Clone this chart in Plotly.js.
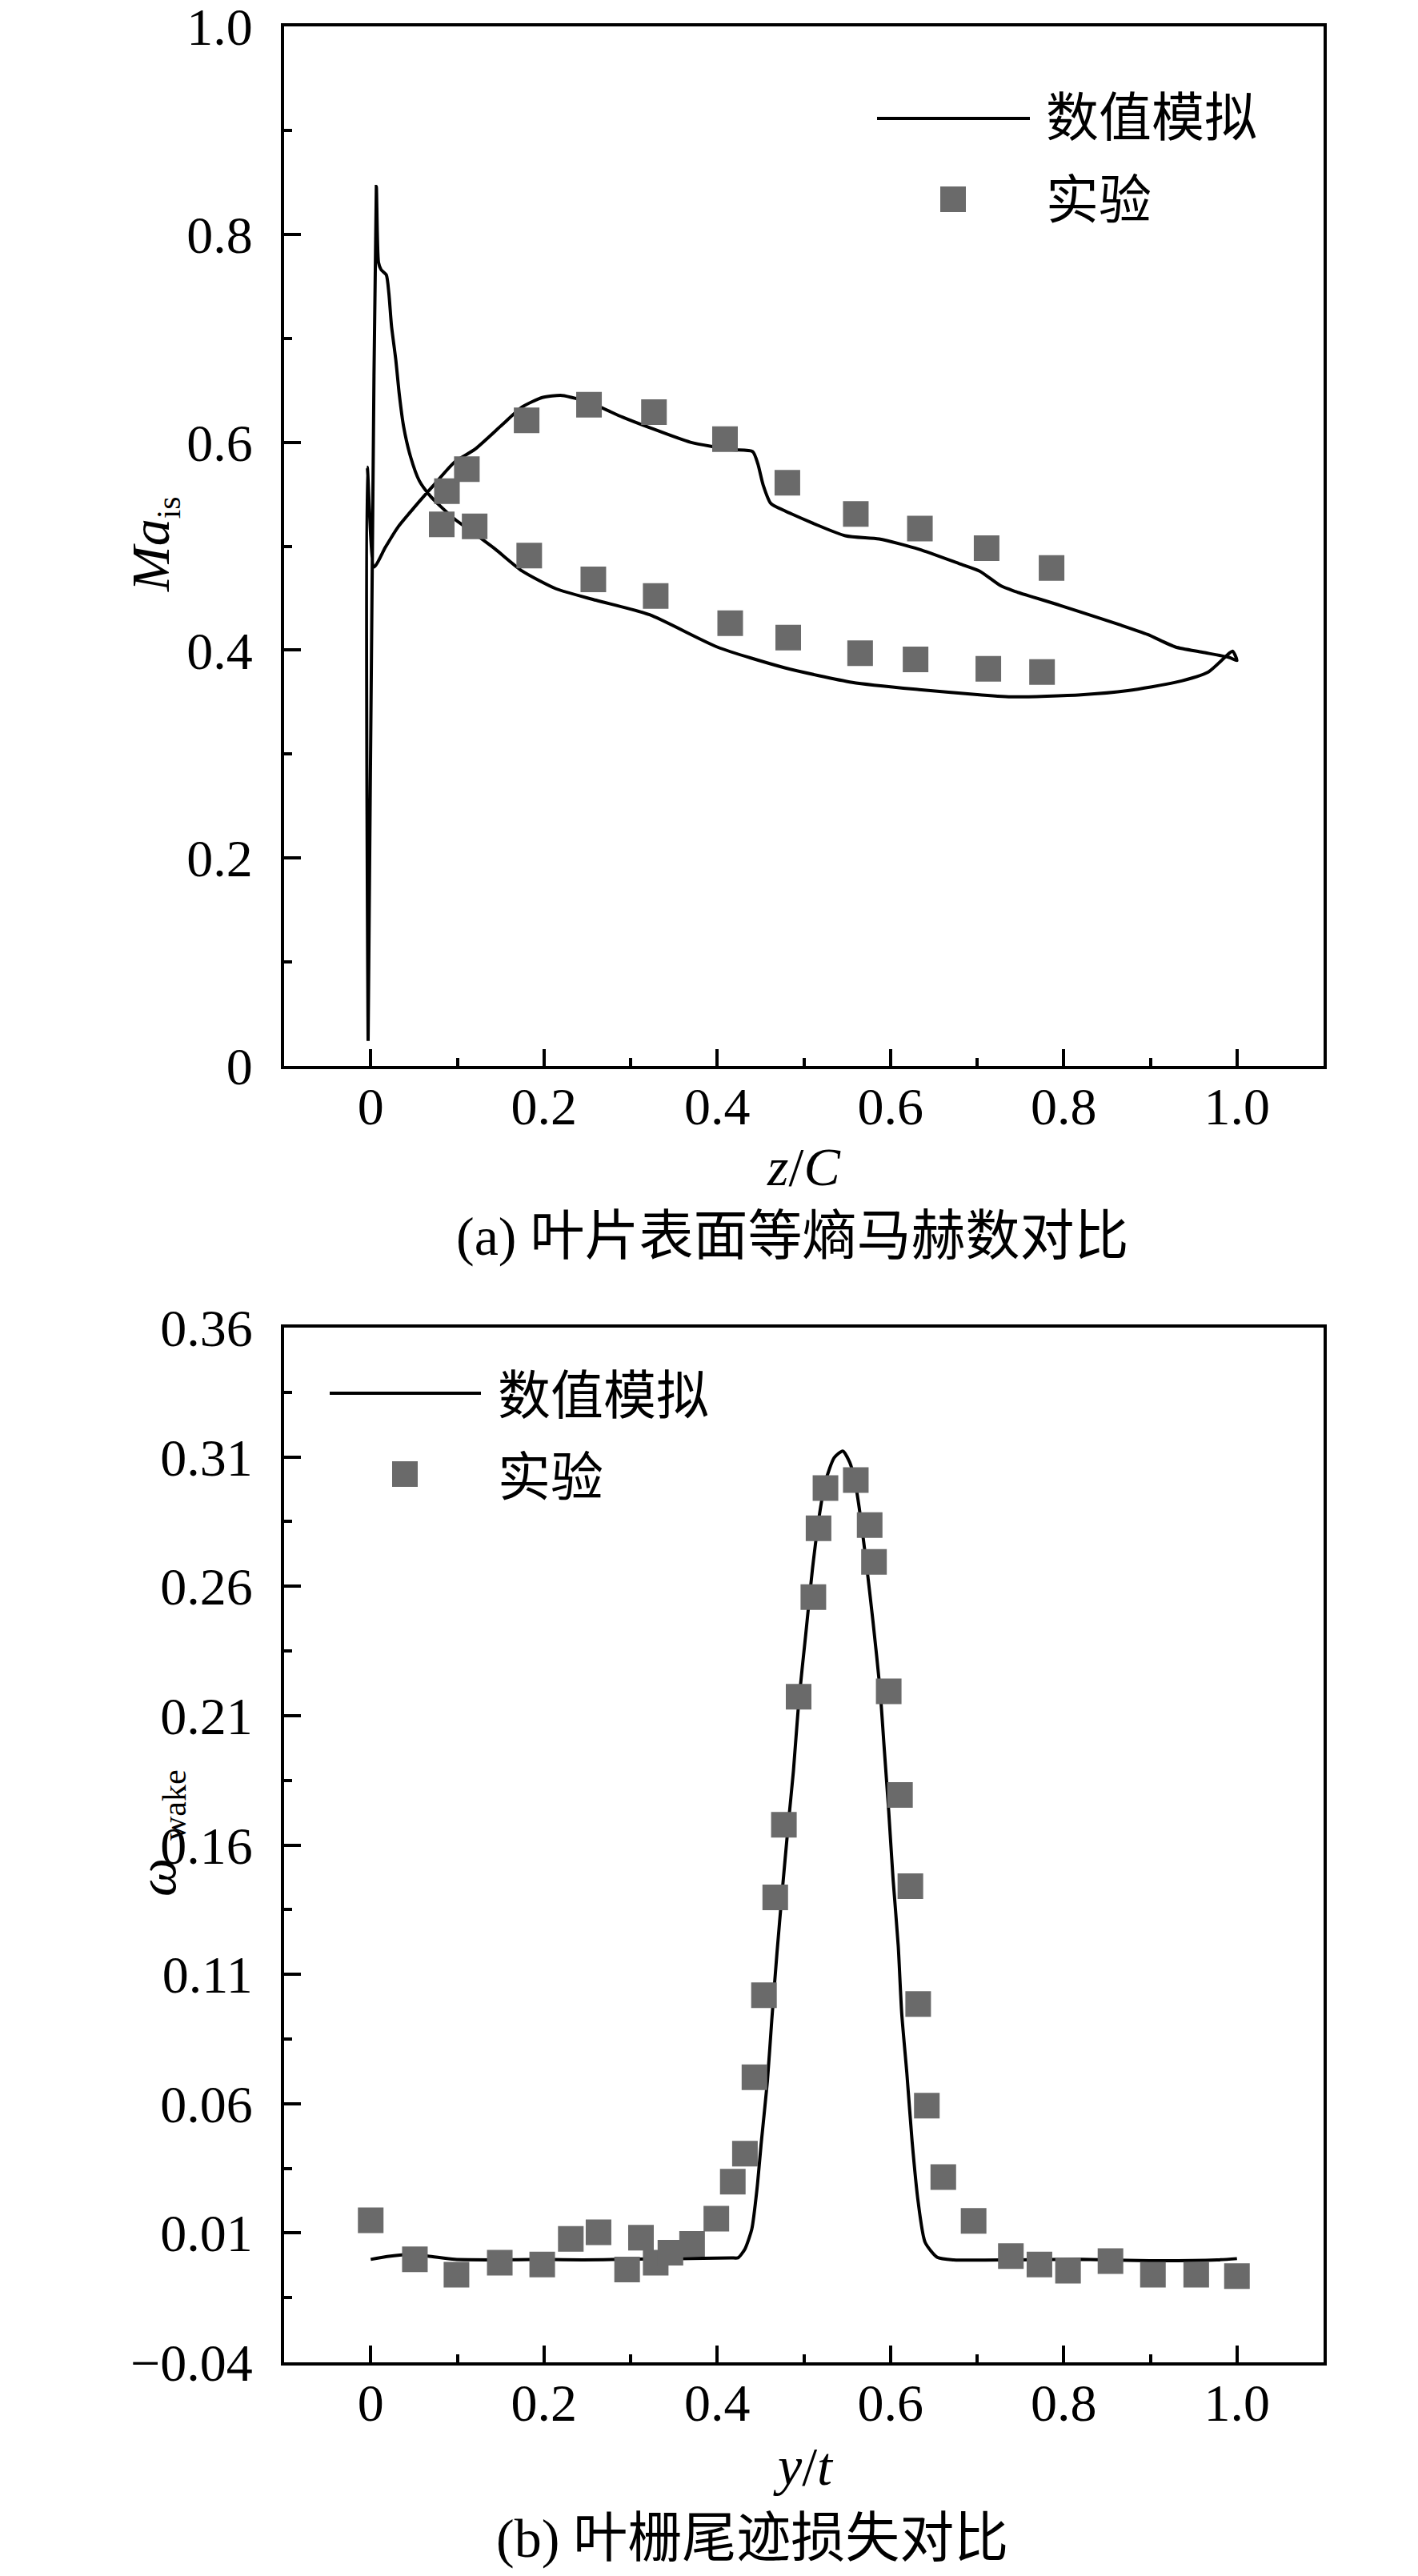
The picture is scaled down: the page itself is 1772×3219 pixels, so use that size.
<!DOCTYPE html>
<html>
<head>
<meta charset="utf-8">
<script src="https://cdn.plot.ly/plotly-3.0.1.min.js"></script>
<style>html,body{margin:0;padding:0;background:#fff;}#chart{width:1772px;height:3219px;}</style>
</head>
<body>
<div id="chart"></div>
<script>
// ---- (a) isentropic Mach number along blade surface ----
// simulation: branch with leading-edge spike (lower curve)
const simA_spikeX = [-0.003, 0.002, 0.0065, 0.009, 0.012, 0.018, 0.021, 0.024, 0.029, 0.033, 0.038, 0.046, 0.056, 0.069, 0.081, 0.097, 0.120, 0.144, 0.175, 0.214, 0.260, 0.322, 0.400, 0.478, 0.556, 0.633, 0.703, 0.742, 0.820, 0.874, 0.929, 0.967, 0.991, 0.995, 1.000];
const simA_spikeY = [0.024, 0.500, 0.846, 0.773, 0.766, 0.761, 0.743, 0.712, 0.679, 0.646, 0.615, 0.586, 0.563, 0.548, 0.538, 0.526, 0.512, 0.497, 0.476, 0.459, 0.448, 0.434, 0.403, 0.383, 0.369, 0.362, 0.357, 0.355, 0.357, 0.361, 0.369, 0.379, 0.397, 0.399, 0.390];
// simulation: other branch (upper curve), from leading edge to trailing edge
const simA_upperX = [-0.003, -0.004, 0.004, 0.017, 0.032, 0.051, 0.072, 0.097, 0.120, 0.152, 0.175, 0.198, 0.221, 0.253, 0.291, 0.322, 0.369, 0.416, 0.441, 0.447, 0.453, 0.462, 0.486, 0.548, 0.587, 0.633, 0.680, 0.703, 0.727, 0.742, 0.796, 0.866, 0.897, 0.929, 0.960, 0.991, 1.000];
const simA_upperY = [0.024, 0.576, 0.480, 0.499, 0.519, 0.538, 0.558, 0.581, 0.593, 0.617, 0.634, 0.643, 0.645, 0.638, 0.624, 0.614, 0.600, 0.593, 0.591, 0.579, 0.559, 0.541, 0.531, 0.510, 0.507, 0.497, 0.483, 0.476, 0.462, 0.457, 0.443, 0.424, 0.415, 0.403, 0.398, 0.393, 0.390];
// experiment
const expA_X = [0.088, 0.111, 0.180, 0.252, 0.327, 0.409, 0.481, 0.560, 0.634, 0.711, 0.786,
                0.082, 0.120, 0.183, 0.257, 0.329, 0.415, 0.482, 0.565, 0.629, 0.713, 0.775];
const expA_Y = [0.553, 0.574, 0.621, 0.636, 0.629, 0.603, 0.561, 0.531, 0.517, 0.498, 0.479,
                0.521, 0.519, 0.491, 0.468, 0.452, 0.426, 0.412, 0.397, 0.391, 0.382, 0.379];

// ---- (b) cascade wake loss ----
const simB_X = [0.000, 0.019, 0.043, 0.066, 0.097, 0.144, 0.198, 0.245, 0.292, 0.354, 0.416, 0.424, 0.432, 0.440, 0.446, 0.451, 0.458, 0.463, 0.469, 0.475, 0.482, 0.488, 0.494, 0.502, 0.510, 0.518, 0.525, 0.535, 0.545, 0.553, 0.559, 0.564, 0.572, 0.580, 0.588, 0.593, 0.598, 0.603, 0.609, 0.613, 0.619, 0.625, 0.632, 0.640, 0.654, 0.673, 0.743, 0.821, 0.899, 0.977, 1.000];
const simB_Y = [-0.0002, 0.0009, 0.0017, 0.0011, -0.0002, -0.0004, -0.0002, -0.0004, -0.0002, 0.0001, 0.0004, 0.0004, 0.0038, 0.0116, 0.0272, 0.0454, 0.0689, 0.0923, 0.1183, 0.1418, 0.1678, 0.1886, 0.2147, 0.2407, 0.2668, 0.2876, 0.3006, 0.3097, 0.3123, 0.3079, 0.3006, 0.2902, 0.2694, 0.2459, 0.2199, 0.1965, 0.1730, 0.1470, 0.1209, 0.0949, 0.0715, 0.0454, 0.0220, 0.0064, 0.0006, -0.0004, -0.0004, -0.0002, -0.0007, -0.0004, 0.0001];
const expB_X = [0.000, 0.051, 0.099, 0.149, 0.198, 0.231, 0.263, 0.296, 0.312, 0.329, 0.346, 0.371, 0.399, 0.418, 0.432, 0.443, 0.454, 0.467, 0.477, 0.494, 0.511, 0.517, 0.525, 0.560, 0.576, 0.581, 0.598, 0.611, 0.623, 0.632, 0.642, 0.661, 0.696, 0.739, 0.772, 0.805, 0.854, 0.903, 0.953, 1.000];
const expB_Y = [0.0149, -0.0002, -0.0061, -0.0015, -0.0022, 0.0077, 0.0103, -0.0041, 0.0082, -0.0015, 0.0024, 0.0058, 0.0155, 0.0298, 0.0407, 0.0702, 0.1019, 0.1397, 0.1678, 0.2173, 0.2558, 0.2824, 0.2980, 0.3011, 0.2837, 0.2694, 0.2194, 0.1793, 0.1441, 0.0985, 0.0592, 0.0316, 0.0147, 0.0011, -0.0022, -0.0046, -0.0009, -0.0061, -0.0061, -0.0067];

// ---- ticks ----
const xTickVals = [0, 0.2, 0.4, 0.6, 0.8, 1.0];
const xTickText = ['0', '0.2', '0.4', '0.6', '0.8', '1.0'];
const yATickVals = [0, 0.2, 0.4, 0.6, 0.8, 1.0];
const yATickText = ['0', '0.2', '0.4', '0.6', '0.8', '1.0'];
const yBTickVals = [-0.04, 0.01, 0.06, 0.11, 0.16, 0.21, 0.26, 0.31, 0.36];
const yBTickText = ['\u22120.04', '0.01', '0.06', '0.11', '0.16', '0.21', '0.26', '0.31', '0.36'];

const legendNames = ['数值模拟', '实验'];
const captions = ['(a) 叶片表面等熵马赫数对比', '(b) 叶栅尾迹损失对比'];

// ---- geometry helpers (page pixels -> paper) ----
const W = 1772, H = 3219;
const px = v => v / W;
const py = v => 1 - v / H;

const serif = 'Liberation Serif, Times New Roman, serif';
const mixed = 'Liberation Serif, Noto Sans CJK SC, serif';
const markerColor = '#6a6a6a';

// simulation curve for (a): upper branch reversed, then spike branch
const simA_X = simA_upperX.slice().reverse().concat(simA_spikeX);
const simA_Y = simA_upperY.slice().reverse().concat(simA_spikeY);

const traces = [
  {x: simA_X, y: simA_Y, xaxis: 'x', yaxis: 'y', mode: 'lines', line: {color: '#000', width: 4, shape: 'spline', smoothing: 0.6}, showlegend: false},
  {x: expA_X, y: expA_Y, xaxis: 'x', yaxis: 'y', mode: 'markers', marker: {symbol: 'square', size: 32, color: markerColor, line: {width: 0}}, showlegend: false},
  {x: simB_X, y: simB_Y, xaxis: 'x2', yaxis: 'y2', mode: 'lines', line: {color: '#000', width: 4, shape: 'spline', smoothing: 0.6}, showlegend: false},
  {x: expB_X, y: expB_Y, xaxis: 'x2', yaxis: 'y2', mode: 'markers', marker: {symbol: 'square', size: 32, color: markerColor, line: {width: 0}}, showlegend: false}
];

const xDomain = [px(355), px(1654)];
function xAxis(anchor) {
  return {
    domain: xDomain, anchor: anchor, range: [-0.1, 1.1],
    tickmode: 'array', tickvals: xTickVals, ticktext: xTickText,
    ticks: 'inside', ticklen: 21, tickwidth: 4, tickcolor: '#000',
    minor: {ticks: 'inside', ticklen: 10, tickwidth: 4, tickcolor: '#000', tick0: 0, dtick: 0.1, showgrid: false},
    showline: true, linecolor: '#000', linewidth: 4, mirror: true,
    showgrid: false, zeroline: false, ticklabeloverflow: 'allow',
    tickfont: {family: serif, size: 66, color: '#000'}, ticklabelstandoff: -10
  };
}
function yAxis(anchor, dom, range, vals, text, m0, md) {
  return {
    domain: dom, anchor: anchor, range: range,
    tickmode: 'array', tickvals: vals, ticktext: text,
    ticks: 'inside', ticklen: 21, tickwidth: 4, tickcolor: '#000',
    minor: {ticks: 'inside', ticklen: 10, tickwidth: 4, tickcolor: '#000', tick0: m0, dtick: md, showgrid: false},
    showline: true, linecolor: '#000', linewidth: 4, mirror: true,
    showgrid: false, zeroline: false, ticklabeloverflow: 'allow',
    tickfont: {family: serif, size: 66, color: '#000'}, ticklabelstandoff: 22
  };
}

function legendShapes(lineX0, lineX1, lineY, mx, my) {
  return [
    {type: 'line', xref: 'paper', yref: 'paper', x0: px(lineX0), x1: px(lineX1), y0: py(lineY), y1: py(lineY), line: {color: '#000', width: 4}},
    {type: 'rect', xref: 'paper', yref: 'paper', x0: px(mx - 16), x1: px(mx + 16), y0: py(my + 16), y1: py(my - 16), fillcolor: markerColor, line: {width: 0}}
  ];
}
function txt(text, x, y, opts) {
  return Object.assign({text: text, xref: 'paper', yref: 'paper', x: px(x), y: py(y), showarrow: false, xanchor: 'center', yanchor: 'middle', font: {family: mixed, size: 66, color: '#000'}}, opts || {});
}

const layout = {
  width: W, height: H,
  margin: {l: 0, r: 0, t: 0, b: 0},
  paper_bgcolor: '#fff', plot_bgcolor: '#fff',
  showlegend: false,
  xaxis: xAxis('y'),
  yaxis: yAxis('x', [py(1332), py(33)], [0, 1.0], yATickVals, yATickText, 0, 0.1),
  xaxis2: xAxis('y2'),
  yaxis2: yAxis('x2', [py(2952), py(1659)], [-0.04, 0.36], yBTickVals, yBTickText, -0.04, 0.025),
  shapes: [].concat(legendShapes(1096, 1287, 148, 1191, 249), legendShapes(412, 601, 1741, 506, 1842)),
  annotations: [
    txt(legendNames[0], 1305, 147, {xanchor: 'left'}),
    txt(legendNames[1], 1305, 250, {xanchor: 'left'}),
    txt(legendNames[0], 620, 1744, {xanchor: 'left'}),
    txt(legendNames[1], 620, 1846, {xanchor: 'left'}),
    txt('<i>Ma</i><sub><span style="font-size:42px">is</span></sub>', 192, 680, {textangle: -90, font: {family: serif, size: 68, color: '#000'}}),
    txt('<i>ω</i>', 196, 2346, {textangle: -90, font: {family: serif, size: 68, color: '#000'}}),
    txt('wake', 218, 2256, {textangle: -90, font: {family: serif, size: 42, color: '#000'}}),
    txt('<i>z</i>/<i>C</i>', 1004, 1458, {font: {family: serif, size: 68, color: '#000'}}),
    txt('<i>y</i>/<i>t</i>', 1004, 3082, {font: {family: serif, size: 68, color: '#000'}}),
    txt(captions[0], 990, 1545, {font: {family: mixed, size: 68, color: '#000'}}),
    txt(captions[1], 940, 3172, {font: {family: mixed, size: 68, color: '#000'}})
  ]
};

Plotly.newPlot('chart', traces, layout, {staticPlot: true, displayModeBar: false});
</script>
</body>
</html>
